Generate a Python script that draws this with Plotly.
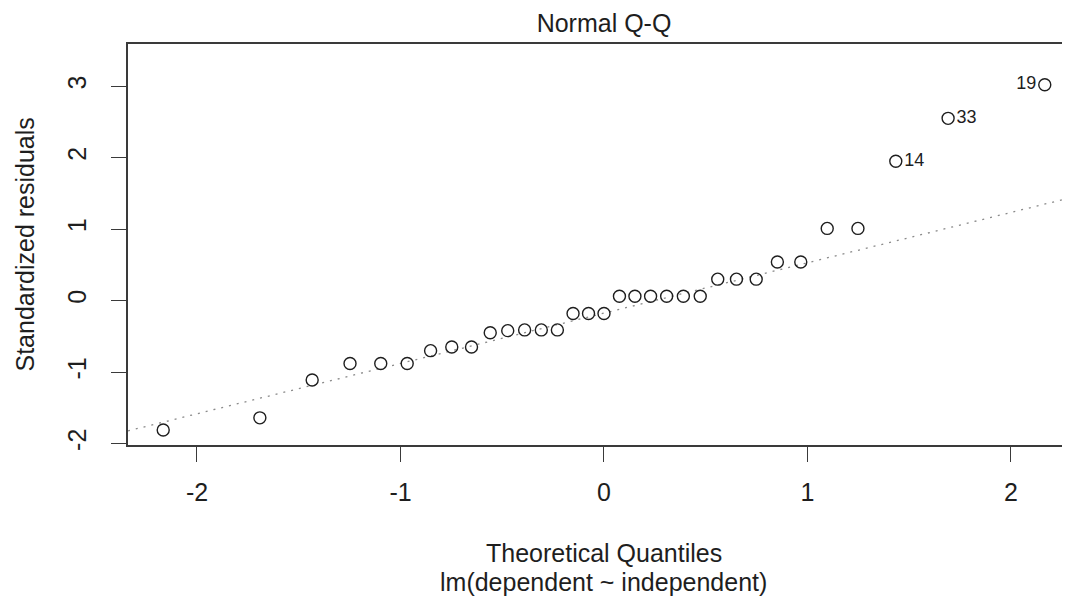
import numpy as np
import plotly.graph_objects as go

# theoretical normal quantiles (x) and sorted standardized residuals (y), 33 obs
theoretical = [-2.166, -1.691, -1.434, -1.248, -1.097, -0.967, -0.852, -0.748,
               -0.651, -0.559, -0.473, -0.390, -0.308, -0.229, -0.152, -0.076,
               0.000, 0.076, 0.152, 0.229, 0.308, 0.390, 0.473, 0.559, 0.651,
               0.748, 0.852, 0.967, 1.097, 1.248, 1.434, 1.691, 2.166]
std_resid = [-1.81, -1.64, -1.11, -0.88, -0.88, -0.88, -0.70, -0.65,
             -0.65, -0.45, -0.42, -0.41, -0.41, -0.41, -0.18, -0.18,
             -0.18, 0.06, 0.06, 0.06, 0.06, 0.06, 0.06, 0.30, 0.30,
             0.30, 0.54, 0.54, 1.01, 1.01, 1.95, 2.55, 3.02]

# observation ids shown next to the three largest residuals
label_index = [30, 31, 32]
label_text = ['14', '33', '19']
label_side = ['middle right', 'middle right', 'middle left']

x_ticks = [-2, -1, 0, 1, 2]
y_ticks = [-2, -1, 0, 1, 2, 3]
x_range = [-2.339, 2.290]
y_range = [-2.02, 3.59]

FONT = 'Liberation Sans, Arial, sans-serif'
INK = '#1e1e1e'
AXIS = '#3a3a3a'

# the page body has an 8px margin, so the figure is 8px smaller than the window
W, H = 1062, 591

# qqline: through the 1st and 3rd quartiles (like R)
q1, q3 = np.quantile(std_resid, [0.25, 0.75])
z1, z3 = -0.6745, 0.6745
slope = (q3 - q1) / (z3 - z1)
intercept = q1 - slope * z1

text = [''] * len(std_resid)
pos = ['middle right'] * len(std_resid)
for i, t, p in zip(label_index, label_text, label_side):
    text[i] = t
    pos[i] = p

line_x = [x_range[0], x_range[1]]
line_y = [intercept + slope * v for v in line_x]

qq_line = go.Scatter(
    x=line_x, y=line_y, mode='lines',
    line={'color': '#8a8a8a', 'width': 1.3, 'dash': '2px,6px'},
    hoverinfo='skip', showlegend=False
)
points = go.Scatter(
    x=theoretical, y=std_resid, mode='markers+text',
    marker={'symbol': 'circle-open', 'size': 12, 'color': INK, 'line': {'width': 1.4}},
    text=text, textposition=pos,
    textfont={'family': FONT, 'size': 18, 'color': INK},
    showlegend=False
)

layout = go.Layout(
    width=W, height=H,
    margin={'l': 120, 'r': 0, 't': 36, 'b': 154},
    paper_bgcolor='white', plot_bgcolor='white',
    font={'family': FONT, 'size': 25, 'color': INK},
    title={'text': 'Normal Q-Q', 'xref': 'paper', 'x': (604 - 128) / 942, 'xanchor': 'center',
           'yref': 'container', 'y': 1 - 15 / H, 'yanchor': 'middle', 'font': {'size': 25}},
    xaxis={'range': x_range, 'tickvals': x_ticks, 'ticktext': [str(v) for v in x_ticks],
           'showgrid': False, 'zeroline': False,
           'showline': True, 'linecolor': AXIS, 'linewidth': 1.6, 'mirror': True,
           'ticks': 'outside', 'ticklen': 15, 'tickwidth': 1.4, 'tickcolor': AXIS,
           'ticklabelstandoff': 9, 'tickfont': {'size': 25}},
    yaxis={'range': y_range, 'tickvals': y_ticks, 'ticktext': [str(v) for v in y_ticks],
           'showgrid': False, 'zeroline': False,
           'showline': True, 'linecolor': AXIS, 'linewidth': 1.6,
           'ticks': 'outside', 'ticklen': 15, 'tickwidth': 1.4, 'tickcolor': AXIS,
           'tickangle': -90, 'ticklabelstandoff': 15, 'tickfont': {'size': 25}},
    annotations=[
        {'text': 'Theoretical Quantiles', 'xref': 'x', 'x': 0, 'yref': 'paper', 'y': 0,
         'yshift': -108, 'showarrow': False, 'xanchor': 'center', 'yanchor': 'middle',
         'font': {'size': 25}},
        {'text': 'lm(dependent ~ independent)', 'xref': 'x', 'x': 0, 'yref': 'paper', 'y': 0,
         'yshift': -137, 'showarrow': False, 'xanchor': 'center', 'yanchor': 'middle',
         'font': {'size': 25}},
        {'text': 'Standardized residuals', 'textangle': -90, 'xref': 'paper',
         'x': (24 - 128) / 942, 'yref': 'paper', 'y': 0.5, 'showarrow': False,
         'xanchor': 'center', 'yanchor': 'middle', 'font': {'size': 25}},
    ],
)

fig = go.Figure((qq_line, points), layout=layout)
fig.write_html("out.html")
